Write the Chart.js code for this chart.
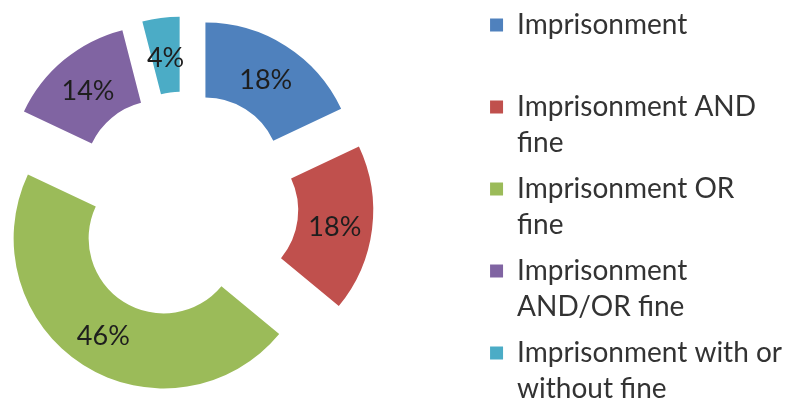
<!DOCTYPE html>
<html>
<head>
<meta charset="utf-8">
<script src="https://cdn.jsdelivr.net/npm/chart.js@4.4.1/dist/chart.umd.min.js"></script>
<style>
  html, body { margin: 0; padding: 0; background: #fff; overflow: hidden; }
  /* canvas is a bit bigger than the window so the ring sits left like the original */
  #penaltyChart { display: block; margin-left: -111px; margin-top: -10px; }
</style>
</head>
<body>
<canvas id="penaltyChart" width="900" height="431"></canvas>
<script>
const categories = [
  ["Imprisonment", ""],
  ["Imprisonment AND", "fine"],
  ["Imprisonment OR", "fine"],
  ["Imprisonment", "AND/OR fine"],
  ["Imprisonment with or", "without fine"],
];
const shares = [18, 18, 46, 14, 4];
const sliceColors = ["#4F81BD", "#C0504D", "#9BBB59", "#8064A2", "#4BACC6"];

const EXPLODE = 39; // every slice pulled out the same distance
const legendFont = { family: "Lato", size: 28, lineHeight: 36 / 28 };
const BOX = 13;

// legend takes its natural width, so size the canvas to keep the legend starting at x=591
const canvas = document.getElementById("penaltyChart");
const probe = document.createElement("canvas").getContext("2d");
probe.font = legendFont.size + "px " + legendFont.family;
const longest = Math.max(...categories.flat().map((t) => probe.measureText(t).width));
canvas.width = Math.round(591 + 10 + BOX + legendFont.size / 2 + longest + 10);

// push each arc out along its middle angle (chart.js "offset" also grows the radius, so do it by hand)
const explode = {
  id: "explode",
  afterDatasetUpdate(chart, args) {
    args.meta.data.forEach((arc) => {
      const mid = (arc.startAngle + arc.endAngle) / 2;
      arc.x += Math.cos(mid) * EXPLODE;
      arc.y += Math.sin(mid) * EXPLODE;
    });
  },
};

// percent text in the middle of each slice
const sliceLabels = {
  id: "sliceLabels",
  afterDatasetsDraw(chart) {
    const ctx = chart.ctx;
    const meta = chart.getDatasetMeta(0);
    const total = shares.reduce((a, b) => a + b, 0);
    ctx.save();
    ctx.font = "27px Lato";
    ctx.fillStyle = "#1e1e1e";
    ctx.textAlign = "center";
    ctx.textBaseline = "middle";
    meta.data.forEach((arc, i) => {
      const p = arc.tooltipPosition();
      ctx.fillText(Math.round((shares[i] / total) * 100) + "%", p.x, p.y + 3);
    });
    ctx.restore();
  },
};

new Chart(canvas, {
  type: "doughnut",
  data: {
    labels: categories,
    datasets: [
      {
        data: shares,
        backgroundColor: sliceColors,
        borderWidth: 0,
      },
    ],
  },
  options: {
    responsive: false,
    animation: false,
    radius: 150,
    cutout: "50%",
    layout: { padding: 0 },
    plugins: {
      tooltip: { enabled: false },
      legend: {
        position: "right",
        align: "end",
        labels: {
          boxWidth: BOX,
          boxHeight: BOX,
          padding: 10,
          color: "#333",
          font: legendFont,
        },
      },
    },
  },
  plugins: [explode, sliceLabels],
});
</script>
</body>
</html>
